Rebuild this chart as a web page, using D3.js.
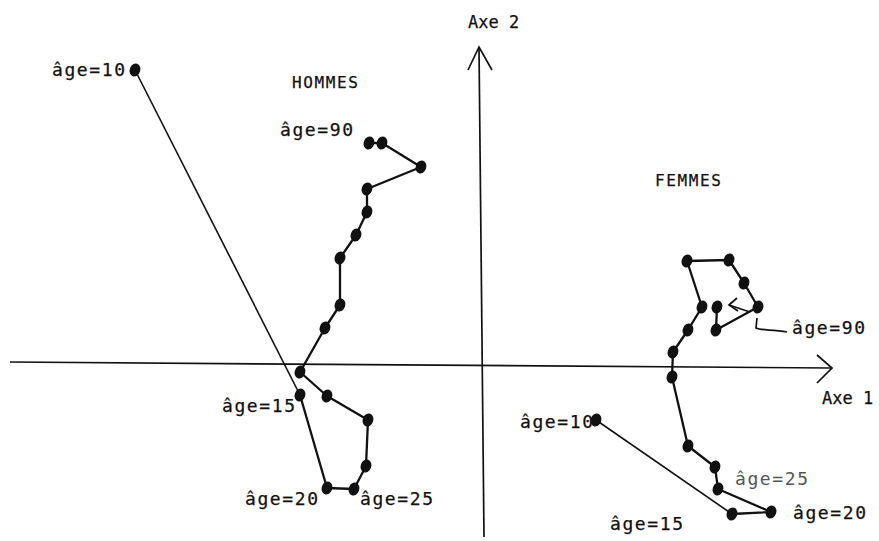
<!DOCTYPE html>
<html><head><meta charset="utf-8">
<script src="https://cdn.jsdelivr.net/npm/d3@7"></script>
<style>
html,body{margin:0;padding:0;background:#fff;}
text{font-family:"DejaVu Sans Mono",monospace;fill:#111;stroke:#111;stroke-width:0.25;}
</style></head>
<body>
<svg id="c" width="879" height="541"></svg>
<script>
// Data: coordinates on factorial axes 1 and 2
const agesHommes = [10,15,20,25,30,35,40,45,50,55,60,65,70,75,80,85,90];
const axe1Hommes = [-3.46,-1.81,-1.54,-1.27,-1.15,-1.13,-1.54,-1.81,-1.56,-1.41,-1.41,-1.25,-1.14,-1.14,-0.60,-0.99,-1.12];
const axe2Hommes = [2.94,-0.31,-1.24,-1.25,-1.02,-0.56,-0.32,-0.08,0.36,0.59,1.06,1.29,1.52,1.75,1.97,2.21,2.21];

const agesFemmes = [10,15,20,25,30,35,40,45,50,55,60,65,70,75,80,90];
const axe1Femmes = [1.15,2.51,2.90,2.37,2.34,2.07,1.91,1.92,2.07,2.21,2.06,2.48,2.63,2.77,2.35,2.36];
const axe2Femmes = [-0.56,-1.50,-1.48,-1.25,-1.03,-0.82,-0.13,0.12,0.34,0.57,1.03,1.04,0.81,0.57,0.34,0.57];

const groupNames = ["HOMMES","FEMMES"];
const axisNames = ["Axe 1","Axe 2"];
const labelledHommes = [10,15,20,25,90];
const labelledFemmes = [10,15,20,25,90];

const W = 879, H = 541;
const svg = d3.select("#c");
const x = d3.scaleLinear().domain([-4.81, 3.98]).range([0, W]);
const y = d3.scaleLinear().domain([-1.77, 3.64]).range([H, 0]);

const hommes = agesHommes.map((a,i)=>({age:a, x:axe1Hommes[i], y:axe2Hommes[i]}));
const femmes = agesFemmes.map((a,i)=>({age:a, x:axe1Femmes[i], y:axe2Femmes[i]}));

// Axes
const ax = svg.append("g").attr("stroke","#111").attr("fill","none").attr("stroke-width",1.7);
ax.append("line").attr("x1",x(-4.71)).attr("y1",y(0.02)).attr("x2",x(3.50)).attr("y2",y(-0.04));
ax.append("path").attr("d",`M${x(3.36)},${y(0.09)} L${x(3.51)},${y(-0.04)} L${x(3.36)},${y(-0.19)}`);
ax.append("line").attr("x1",x(-0.02)).attr("y1",y(3.17)).attr("x2",x(0.03)).attr("y2",y(-1.73));
ax.append("path").attr("d",`M${x(-0.13)},${y(2.94)} L${x(-0.02)},${y(3.17)} L${x(0.11)},${y(2.94)}`);

svg.append("text").attr("x",x(-0.13)).attr("y",y(3.36)).attr("font-size",17).text(axisNames[1]);
svg.append("text").attr("x",x(3.41)).attr("y",y(-0.40)).attr("font-size",17).text(axisNames[0]);

const line = d3.line().x(d=>x(d.x)).y(d=>y(d.y));

function drawGroup(data){
  const g = svg.append("g");
  g.append("path").datum(data.slice(0,2)).attr("d",line)
    .attr("fill","none").attr("stroke","#111").attr("stroke-width",1.6);
  g.append("path").datum(data.slice(1)).attr("d",line)
    .attr("fill","none").attr("stroke","#111").attr("stroke-width",2.3).attr("stroke-linejoin","round");
  g.selectAll("ellipse").data(data).join("ellipse")
    .attr("cx",d=>x(d.x)).attr("cy",d=>y(d.y))
    .attr("rx",5.3).attr("ry",6.6).attr("fill","#111")
    .attr("transform",d=>`rotate(20,${x(d.x)},${y(d.y)})`);
}
drawGroup(hommes);
drawGroup(femmes);

// Group titles
svg.append("text").attr("x",x(-1.89)).attr("y",y(2.76)).attr("font-size",16).attr("textLength",66).text(groupNames[0]);
svg.append("text").attr("x",x(1.74)).attr("y",y(1.78)).attr("font-size",16).attr("textLength",66).text(groupNames[1]);

// Age labels: offsets (in axis units) from the point
const offH = {10:[-0.83,-0.06], 15:[-0.78,-0.17], 20:[-0.82,-0.17], 25:[0.06,-0.16], 90:[-0.89,0.07]};
const offF = {10:[-0.76,-0.08], 15:[-1.22,-0.16], 20:[0.22,-0.07], 25:[0.17,0.04], 90:[0.75,-0.27]};
function ageLabels(data, labelled, off, greyAge){
  labelled.forEach(a=>{
    const d = data.find(p=>p.age===a);
    const o = off[a];
    svg.append("text").attr("x",x(d.x+o[0])).attr("y",y(d.y+o[1]))
      .attr("font-size",18).attr("letter-spacing",1.6)
      .style("fill", a===greyAge ? "#555" : "#111")
      .style("stroke", a===greyAge ? "none" : "#111")
      .text("âge=" + a);
  });
}
ageLabels(hommes, labelledHommes, offH, null);
ageLabels(femmes, labelledFemmes, offF, 25);

// Pointer for female age=90
const f90 = femmes.find(p=>p.age===90);
const pg = svg.append("g").attr("fill","none").attr("stroke","#111").attr("stroke-width",1.7);
pg.append("path").attr("d",
  `M${x(f90.x+0.70)},${y(f90.y-0.25)} C${x(f90.x+0.55)},${y(f90.y-0.22)} ${x(f90.x+0.45)},${y(f90.y-0.24)} ${x(f90.x+0.39)},${y(f90.y-0.21)} L${x(f90.x+0.40)},${y(f90.y-0.11)}`);
pg.append("line").attr("x1",x(f90.x+0.33)).attr("y1",y(f90.y-0.05)).attr("x2",x(f90.x+0.12)).attr("y2",y(f90.y+0.02));
pg.append("path").attr("d",
  `M${x(f90.x+0.20)},${y(f90.y+0.09)} L${x(f90.x+0.12)},${y(f90.y+0.02)} L${x(f90.x+0.21)},${y(f90.y-0.04)}`);
</script>
</body></html>
